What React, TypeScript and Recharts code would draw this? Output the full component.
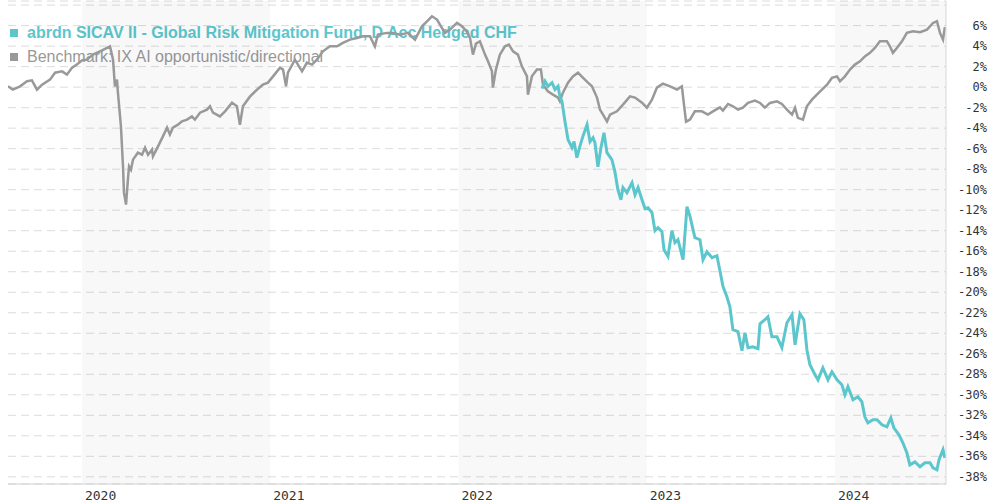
import { LineChart, Line, XAxis, YAxis, CartesianGrid, ReferenceArea } from 'recharts'

// dates as decimal years
const benchDates = [
  2019.607, 2019.633, 2019.671, 2019.708, 2019.734, 2019.761, 2019.788, 2019.830, 2019.857, 2019.894,
  2019.920, 2019.947, 2019.973, 2020.000, 2020.027, 2020.058, 2020.096, 2020.133, 2020.149, 2020.165,
  2020.175, 2020.186, 2020.191, 2020.207, 2020.218, 2020.223, 2020.234, 2020.244, 2020.250, 2020.260,
  2020.271, 2020.297, 2020.319, 2020.335, 2020.351, 2020.372, 2020.377, 2020.404, 2020.430, 2020.452,
  2020.467, 2020.483, 2020.510, 2020.531, 2020.558, 2020.584, 2020.600, 2020.627, 2020.664, 2020.680,
  2020.696, 2020.733, 2020.760, 2020.797, 2020.823, 2020.839, 2020.855, 2020.892, 2020.930, 2020.961,
  2020.988, 2021.015, 2021.052, 2021.068, 2021.084, 2021.094, 2021.131, 2021.169, 2021.195, 2021.222,
  2021.248, 2021.280, 2021.317, 2021.355, 2021.386, 2021.424, 2021.461, 2021.493, 2021.530, 2021.556,
  2021.572, 2021.620, 2021.652, 2021.689, 2021.732, 2021.769, 2021.806, 2021.833, 2021.859, 2021.886,
  2021.912, 2021.928, 2021.955, 2021.992, 2022.019, 2022.045, 2022.061, 2022.077, 2022.093, 2022.114,
  2022.141, 2022.157, 2022.178, 2022.183, 2022.199, 2022.220, 2022.247, 2022.268, 2022.290, 2022.316,
  2022.337, 2022.364, 2022.369, 2022.390, 2022.417, 2022.438, 2022.449, 2022.475, 2022.502, 2022.529,
  2022.539, 2022.555, 2022.582, 2022.608, 2022.635, 2022.661, 2022.688, 2022.709, 2022.736, 2022.752,
  2022.768, 2022.789, 2022.805, 2022.842, 2022.874, 2022.911, 2022.938, 2022.975, 2023.001, 2023.028,
  2023.054, 2023.086, 2023.124, 2023.161, 2023.187, 2023.198, 2023.209, 2023.230, 2023.256, 2023.293,
  2023.325, 2023.352, 2023.389, 2023.405, 2023.432, 2023.458, 2023.485, 2023.511, 2023.538, 2023.575,
  2023.602, 2023.628, 2023.655, 2023.692, 2023.718, 2023.745, 2023.772, 2023.788, 2023.803, 2023.830,
  2023.851, 2023.878, 2023.904, 2023.931, 2023.958, 2023.984, 2024.011, 2024.027, 2024.053, 2024.080,
  2024.106, 2024.133, 2024.159, 2024.186, 2024.212, 2024.239, 2024.276, 2024.292, 2024.308, 2024.329,
  2024.356, 2024.382, 2024.414, 2024.452, 2024.489, 2024.521, 2024.542, 2024.558, 2024.574, 2024.584,
]

const benchValues = [
  0.08, -0.24, 0.08, 0.57, 0.66, -0.24, 0.24, 0.73, 1.41, 1.54,
  1.22, 1.90, 2.20, 2.61, 2.68, 3.17, 3.49, 3.82, 3.98, 2.68,
  0.08, 0.73, -0.54, -3.82, -7.73, -10.29, -11.46, -9.02, -7.73, -8.05,
  -7.07, -6.39, -6.59, -5.90, -6.59, -6.10, -6.75, -5.78, -4.80, -3.95,
  -4.63, -3.95, -3.66, -3.34, -3.17, -2.85, -3.17, -2.49, -2.20, -1.87,
  -2.49, -2.85, -2.36, -1.51, -1.87, -3.66, -1.87, -0.93, -0.24, 0.24,
  0.44, 1.05, 1.90, 1.71, 0.08, 1.41, 2.68, 1.54, 2.39, 2.20,
  2.68, 3.49, 3.98, 3.98, 4.31, 4.63, 4.80, 4.96, 4.96, 3.98,
  5.12, 5.29, 5.29, 5.12, 5.29, 4.63, 5.93, 6.42, 6.91, 6.59,
  5.78, 5.29, 5.61, 6.26, 5.93, 5.41, 4.83, 3.17, 4.24, 4.47,
  3.17, 2.52, 1.54, -0.05, 1.71, 3.17, 3.98, 4.15, 3.49, 3.17,
  2.03, 1.05, -0.73, 1.05, 1.71, 1.71, 0.24, -0.41, -0.73, -1.02,
  -1.39, -0.54, 0.44, 1.05, 1.41, 0.93, 0.44, 0.08, -1.02, -2.20,
  -2.68, -3.34, -2.68, -2.36, -1.71, -0.90, -1.02, -1.51, -2.00, -1.22,
  -0.05, 0.34, 0.08, -0.24, 0.08, -1.71, -3.37, -3.17, -2.36, -2.36,
  -2.68, -2.36, -1.97, -2.29, -1.64, -1.87, -2.20, -2.00, -1.54, -1.32,
  -1.54, -2.00, -1.54, -1.39, -1.64, -2.20, -2.68, -2.00, -3.00, -3.17,
  -1.87, -1.22, -0.73, -0.24, 0.24, 0.90, 1.05, 0.57, 1.05, 1.71,
  2.20, 2.52, 3.00, 3.34, 3.82, 4.47, 4.47, 3.98, 3.34, 3.82,
  4.47, 5.29, 5.44, 5.35, 5.61, 6.26, 6.42, 5.29, 4.63, 5.85,
]

const fundDates = [
  2022.444, 2022.460, 2022.475, 2022.497, 2022.513, 2022.529, 2022.539, 2022.550, 2022.566, 2022.582,
  2022.603, 2022.614, 2022.629, 2022.645, 2022.661, 2022.683, 2022.699, 2022.715, 2022.725, 2022.741,
  2022.757, 2022.773, 2022.789, 2022.815, 2022.831, 2022.847, 2022.863, 2022.874, 2022.895, 2022.922,
  2022.938, 2022.954, 2022.975, 2022.991, 2023.007, 2023.028, 2023.044, 2023.060, 2023.081, 2023.092,
  2023.113, 2023.134, 2023.150, 2023.166, 2023.193, 2023.214, 2023.230, 2023.256, 2023.283, 2023.299,
  2023.320, 2023.347, 2023.373, 2023.389, 2023.405, 2023.426, 2023.442, 2023.458, 2023.485, 2023.506,
  2023.522, 2023.538, 2023.564, 2023.591, 2023.602, 2023.628, 2023.644, 2023.665, 2023.692, 2023.718,
  2023.745, 2023.772, 2023.788, 2023.814, 2023.835, 2023.851, 2023.867, 2023.894, 2023.910, 2023.936,
  2023.963, 2023.984, 2024.011, 2024.037, 2024.053, 2024.069, 2024.096, 2024.122, 2024.143, 2024.159,
  2024.175, 2024.202, 2024.223, 2024.250, 2024.276, 2024.297, 2024.313, 2024.340, 2024.361, 2024.382,
  2024.398, 2024.425, 2024.452, 2024.478, 2024.505, 2024.521, 2024.542, 2024.553, 2024.574, 2024.584,
]

const fundValues = [
  -0.15, 0.57, 0.08, 0.44, -0.24, 0.08, -0.93, -1.39, -3.37, -5.12,
  -5.90, -5.29, -6.88, -5.78, -4.80, -3.66, -5.32, -4.93, -5.41, -7.76,
  -5.90, -4.44, -6.39, -7.07, -8.24, -10.00, -10.98, -9.80, -10.29, -9.32,
  -10.49, -9.80, -10.98, -11.85, -11.76, -12.24, -14.00, -13.71, -14.10, -15.85,
  -16.51, -14.00, -15.17, -14.88, -16.83, -11.66, -12.60, -14.68, -14.88, -16.83,
  -16.05, -16.63, -16.44, -17.90, -19.43, -20.44, -21.41, -23.66, -23.85, -25.71,
  -23.95, -25.41, -25.32, -25.51, -23.07, -22.68, -22.39, -24.34, -24.34, -25.41,
  -22.98, -22.20, -25.12, -22.10, -22.68, -25.61, -27.07, -28.05, -28.54, -27.37,
  -28.54, -27.76, -28.54, -29.02, -30.00, -29.22, -30.49, -30.20, -30.68, -32.15,
  -32.73, -32.44, -32.44, -32.93, -33.12, -32.24, -33.22, -33.90, -34.68, -35.66,
  -36.83, -36.54, -37.02, -36.63, -36.63, -37.12, -37.32, -36.34, -35.37, -36.15,
]

const yearTicks = [2020, 2021, 2022, 2023, 2024]
const shadedYears = [2020, 2022, 2024]
const pctTicks = [-38, -36, -34, -32, -30, -28, -26, -24, -22, -20, -18, -16, -14, -12, -10, -8, -6, -4, -2, 0, 2, 4, 6, 8]

const fundName = 'abrdn SICAV II - Global Risk Mitigation Fund, D Acc Hedged CHF'
const benchName = 'Benchmark: IX AI opportunistic/directional'

const X_MIN = 2019.607
const X_MAX = 2024.59
const TEAL = '#5cc6cd'
const GREY = '#999999'
const MONO = '"DejaVu Sans Mono", monospace'

const rows = new Map<number, any>()
benchDates.forEach((t, i) => rows.set(t, { ...rows.get(t), t, bench: benchValues[i] }))
fundDates.forEach((t, i) => rows.set(t, { ...rows.get(t), t, fund: fundValues[i] }))
const data = [...rows.values()].sort((a, b) => a.t - b.t)

const YTick = ({ y, payload }: any) => {
  if (payload.value === 8) return <g />
  return (
    <text x={987} y={y} dy={4} textAnchor="end" fill="#333" fontSize={12} fontFamily={MONO}>
      {payload.value}%
    </text>
  )
}

const XTick = ({ x, y, payload }: any) => (
  <text x={x + 3} y={y} dy={14} textAnchor="start" fill="#333" fontSize={13} fontFamily={MONO}>
    {payload.value}
  </text>
)

const legendRow = (color: string, label: string, top: number, bold: boolean) => (
  <div style={{ position: 'absolute', left: 10, top, display: 'flex', alignItems: 'center', color, fontSize: 16, fontWeight: bold ? 700 : 400, lineHeight: '18px', whiteSpace: 'nowrap' }}>
    <span style={{ width: 8, height: 8, background: color, marginRight: 9, display: 'inline-block' }} />
    {label}
  </div>
)

export default function App() {
  return (
    <div style={{ position: 'absolute', left: 0, top: 0, width: 988, height: 503, background: '#fff', overflow: 'hidden', fontFamily: '"Liberation Sans", Arial, sans-serif' }}>
      <div style={{ position: 'absolute', left: 0, top: 0, zIndex: 0 }}>
        {legendRow(TEAL, fundName, 24, true)}
        {legendRow(GREY, benchName, 48, false)}
      </div>
      <div style={{ position: 'absolute', left: 0, top: 0, zIndex: 1 }}>
        <LineChart width={988} height={503} data={data} margin={{ top: 1, right: 0, bottom: 0, left: 8 }}>
          {shadedYears.map(yr => (
            <ReferenceArea key={yr} x1={yr} x2={Math.min(yr + 1, X_MAX)} fill="#000" fillOpacity={0.027} stroke="none" ifOverflow="hidden" />
          ))}
          <CartesianGrid vertical={false} stroke="#dcdcdc" strokeDasharray="8 5" />
          <XAxis dataKey="t" type="number" domain={[X_MIN, X_MAX]} ticks={yearTicks} allowDataOverflow height={19}
            tick={<XTick />} tickLine={false} tickSize={0} axisLine={{ stroke: '#d0d0d0' }} interval={0} />
          <YAxis orientation="right" type="number" domain={[-38.7, 8.4]} ticks={pctTicks} allowDataOverflow width={42}
            tick={<YTick />} tickLine={false} tickSize={0} axisLine={{ stroke: '#d8d8d8' }} interval={0} />
          <Line dataKey="bench" stroke={GREY} strokeWidth={2.5} dot={false} connectNulls isAnimationActive={false} />
          <Line dataKey="fund" stroke={TEAL} strokeWidth={3} dot={false} connectNulls isAnimationActive={false} />
        </LineChart>
      </div>
    </div>
  )
}
